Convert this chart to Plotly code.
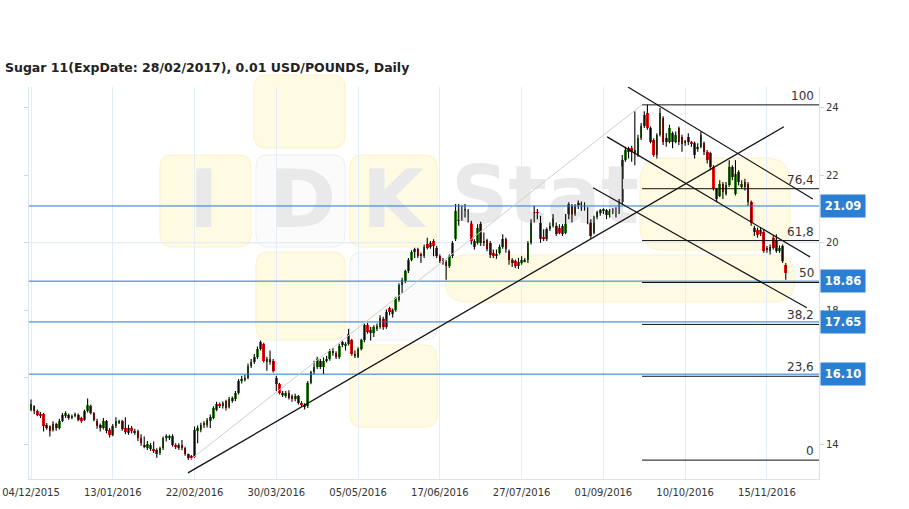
import plotly.graph_objects as go

# ---------------- data ----------------
title_text = "Sugar 11(ExpDate: 28/02/2017), 0.01 USD/POUNDS, Daily"
tick_labels = ["04/12/2015", "13/01/2016", "22/02/2016", "30/03/2016", "05/05/2016",
               "17/06/2016", "27/07/2016", "01/09/2016", "10/10/2016", "15/11/2016"]
bars_per_tick = 26
price_ticks = [14, 16, 18, 20, 22, 24]
price_tick_text = ["14", "", "18", "20", "22", "24"]  # 16 sits under the 16.10 label

opens = [
    15.05, 15.15, 15.02, 14.85, 14.92, 14.60, 14.55, 14.45, 14.62, 14.50,
    14.72, 14.85, 14.90, 14.80, 14.85, 14.90, 14.80, 14.75, 15.00, 15.15,
    14.95, 14.72, 14.60, 14.50, 14.70, 14.45, 14.30, 14.55, 14.68, 14.70,
    14.50, 14.35, 14.50, 14.35, 14.40, 14.20, 14.00, 13.90, 14.00, 13.88,
    13.85, 13.75, 13.90, 14.20, 14.22, 14.28, 14.00, 13.92, 14.00, 13.90,
    13.72, 13.65, 13.65, 14.40, 14.45, 14.65, 14.60, 14.72, 14.80, 15.05,
    15.22, 15.15, 15.30, 15.12, 15.30, 15.35, 15.55, 15.90, 15.95, 16.00,
    16.35, 16.45, 16.60, 16.85, 17.00, 16.45, 16.55, 16.50, 16.00, 15.80,
    15.55, 15.45, 15.55, 15.45, 15.35, 15.45, 15.25, 15.20, 15.15, 15.85,
    16.15, 16.30, 16.50, 16.30, 16.50, 16.55, 16.80, 16.72, 16.60, 17.05,
    16.95, 17.00, 17.10, 16.70, 16.62, 16.85, 17.10, 17.55, 17.40, 17.32,
    17.45, 17.50, 17.75, 17.50, 18.05, 17.90, 18.00, 18.30, 18.75, 18.85,
    19.15, 19.50, 19.72, 19.80, 19.65, 19.60, 19.95, 19.88, 20.05, 19.85,
    19.60, 19.50, 19.42, 19.30, 19.60, 20.10, 21.00, 20.70, 20.85, 20.95,
    20.60, 20.05, 20.00, 20.55, 19.98, 20.08, 20.00, 19.70, 19.60, 19.70,
    19.88, 20.12, 19.75, 19.50, 19.45, 19.30, 19.40, 19.45, 19.48, 20.00,
    20.65, 20.92, 20.75, 20.15, 20.10, 20.40, 20.50, 20.50, 20.45, 20.50,
    20.30, 20.78, 21.10, 20.85, 21.20, 21.18, 21.15, 21.00, 20.65, 20.30,
    20.75, 20.88, 20.95, 20.98, 20.82, 20.95, 21.00, 20.90, 21.20, 22.45,
    22.80, 22.82, 22.75, 22.60, 23.10, 23.45, 23.85, 23.40, 23.05, 22.60,
    23.20, 23.70, 23.10, 23.00, 23.25, 23.00, 23.40, 23.15, 22.96, 23.15,
    22.98, 22.96, 22.80, 22.85, 22.96, 22.70, 22.65, 22.25, 21.58, 21.40,
    21.75, 21.45, 21.70, 22.25, 21.45, 22.10, 21.65, 21.80, 21.75, 21.20,
    20.45, 20.38, 20.25, 20.32, 19.85, 19.75, 20.15, 20.05, 19.75, 19.90,
    19.35,
]
highs = [
    15.35, 15.18, 15.05, 14.98, 14.95, 14.65, 14.58, 14.70, 14.66, 14.78,
    14.95, 15.00, 14.93, 14.90, 14.96, 14.93, 14.84, 15.05, 15.38, 15.20,
    14.98, 14.78, 14.64, 14.80, 14.74, 14.50, 14.62, 14.82, 14.75, 14.75,
    14.82, 14.60, 14.56, 14.48, 14.45, 14.32, 14.25, 14.12, 14.06, 14.10,
    13.90, 13.95, 14.25, 14.32, 14.30, 14.32, 14.05, 14.05, 14.15, 13.95,
    13.75, 13.70, 14.55, 14.58, 14.66, 14.70, 14.80, 14.90, 15.15, 15.28,
    15.26, 15.30, 15.34, 15.42, 15.44, 15.60, 15.96, 16.05, 16.08, 16.42,
    16.55, 16.70, 16.92, 17.10, 17.03, 16.62, 16.80, 16.55, 16.05, 15.84,
    15.60, 15.60, 15.62, 15.50, 15.52, 15.48, 15.30, 15.24, 15.90, 16.20,
    16.50, 16.62, 16.55, 16.60, 16.65, 16.85, 16.88, 16.78, 17.00, 17.10,
    17.05, 17.45, 17.15, 16.80, 16.90, 17.15, 17.60, 17.62, 17.50, 17.55,
    17.60, 17.85, 17.80, 18.02, 18.10, 18.05, 18.40, 18.80, 18.96, 19.20,
    19.55, 19.78, 19.85, 19.85, 19.70, 19.95, 20.15, 20.05, 20.10, 19.90,
    19.65, 19.55, 19.48, 19.65, 20.05, 21.15, 21.15, 21.10, 21.15, 21.00,
    20.65, 20.10, 20.55, 20.62, 20.30, 20.12, 20.05, 19.80, 19.80, 19.95,
    20.25, 20.15, 19.80, 19.55, 19.50, 19.55, 19.60, 19.55, 20.05, 20.70,
    21.10, 21.00, 20.80, 20.40, 20.45, 20.60, 20.85, 20.60, 20.55, 20.55,
    20.85, 21.20, 21.15, 21.15, 21.25, 21.22, 21.20, 21.05, 20.70, 20.80,
    20.95, 21.00, 21.02, 21.00, 21.00, 21.02, 21.05, 21.30, 22.60, 22.85,
    22.85, 22.88, 23.90, 23.20, 23.55, 23.90, 24.09, 23.45, 23.10, 23.25,
    24.00, 23.75, 23.25, 23.50, 23.30, 23.30, 23.45, 23.20, 23.05, 23.25,
    23.02, 23.00, 22.95, 23.30, 23.00, 22.75, 22.70, 22.30, 21.62, 21.85,
    21.80, 21.80, 22.45, 22.30, 22.45, 22.15, 21.85, 21.90, 21.80, 21.25,
    20.50, 20.45, 20.45, 20.40, 19.90, 19.95, 20.20, 20.25, 19.92, 19.95,
    19.40,
]
lows = [
    15.00, 14.92, 14.85, 14.80, 14.40, 14.45, 14.25, 14.40, 14.42, 14.46,
    14.68, 14.80, 14.75, 14.76, 14.82, 14.70, 14.66, 14.72, 14.96, 14.90,
    14.70, 14.48, 14.40, 14.46, 14.35, 14.22, 14.26, 14.50, 14.62, 14.42,
    14.32, 14.30, 14.34, 14.30, 14.12, 13.98, 13.90, 13.85, 13.82, 13.76,
    13.62, 13.70, 13.85, 14.10, 14.15, 13.95, 13.88, 13.85, 13.84, 13.68,
    13.55, 13.56, 13.62, 14.05, 14.38, 14.50, 14.52, 14.50, 14.76, 15.00,
    15.10, 15.08, 15.02, 15.08, 15.25, 15.30, 15.50, 15.82, 15.88, 15.95,
    16.28, 16.40, 16.55, 16.80, 16.45, 16.20, 16.38, 16.15, 15.60, 15.50,
    15.42, 15.40, 15.35, 15.28, 15.30, 15.20, 15.14, 15.05, 15.10, 15.80,
    16.10, 16.25, 16.25, 16.10, 16.45, 16.50, 16.65, 16.55, 16.55, 16.90,
    16.80, 16.95, 16.65, 16.58, 16.58, 16.80, 17.05, 17.30, 17.10, 17.20,
    17.38, 17.45, 17.42, 17.45, 17.85, 17.78, 17.95, 18.25, 18.50, 18.80,
    19.10, 19.45, 19.55, 19.55, 19.40, 19.55, 19.80, 19.82, 19.60, 19.55,
    19.40, 19.35, 18.90, 19.25, 19.55, 20.05, 20.50, 20.65, 20.75, 20.60,
    19.95, 19.80, 19.95, 19.90, 19.90, 19.75, 19.55, 19.55, 19.52, 19.65,
    19.82, 19.70, 19.35, 19.28, 19.25, 19.22, 19.35, 19.42, 19.40, 19.95,
    20.60, 20.70, 20.00, 20.05, 20.05, 20.35, 20.45, 20.20, 20.25, 20.20,
    20.25, 20.70, 20.60, 20.80, 21.00, 20.95, 20.95, 20.55, 20.12, 20.25,
    20.70, 20.80, 20.85, 20.70, 20.75, 20.85, 20.75, 20.85, 21.15, 22.40,
    22.50, 22.40, 22.30, 22.55, 23.05, 23.40, 23.35, 22.95, 22.55, 22.50,
    23.15, 22.90, 22.85, 22.95, 22.80, 22.95, 22.90, 22.70, 22.88, 22.90,
    22.85, 22.50, 22.70, 22.80, 22.60, 22.35, 22.15, 21.55, 21.20, 21.35,
    21.30, 21.40, 21.65, 21.85, 21.40, 21.70, 21.60, 21.55, 21.10, 20.50,
    20.20, 20.15, 20.20, 19.70, 19.70, 19.65, 19.80, 19.70, 19.70, 19.40,
    18.90,
]
closes = [
    15.22, 15.00, 14.90, 14.92, 14.55, 14.50, 14.42, 14.62, 14.50, 14.72,
    14.88, 14.95, 14.80, 14.85, 14.92, 14.75, 14.72, 15.00, 15.20, 14.95,
    14.75, 14.55, 14.50, 14.70, 14.40, 14.30, 14.55, 14.72, 14.68, 14.48,
    14.38, 14.50, 14.40, 14.42, 14.20, 14.05, 13.95, 14.02, 13.88, 13.82,
    13.72, 13.90, 14.20, 14.28, 14.28, 14.00, 13.95, 14.00, 13.90, 13.72,
    13.60, 13.62, 14.45, 14.50, 14.60, 14.58, 14.75, 14.82, 15.10, 15.22,
    15.18, 15.25, 15.10, 15.35, 15.38, 15.55, 15.90, 15.95, 16.00, 16.35,
    16.45, 16.60, 16.85, 17.05, 16.50, 16.55, 16.45, 16.20, 15.82, 15.55,
    15.50, 15.55, 15.40, 15.35, 15.45, 15.25, 15.20, 15.12, 15.85, 16.15,
    16.30, 16.55, 16.30, 16.50, 16.55, 16.80, 16.72, 16.60, 16.95, 16.97,
    17.00, 17.30, 16.70, 16.65, 16.85, 17.10, 17.55, 17.35, 17.32, 17.50,
    17.52, 17.78, 17.50, 17.95, 17.95, 18.00, 18.35, 18.75, 18.90, 19.15,
    19.50, 19.72, 19.80, 19.60, 19.62, 19.88, 19.85, 20.00, 19.90, 19.60,
    19.45, 19.45, 19.30, 19.60, 20.00, 20.95, 20.65, 20.85, 21.00, 20.80,
    20.05, 19.88, 20.45, 20.00, 20.05, 19.80, 19.65, 19.62, 19.68, 19.88,
    20.10, 19.80, 19.50, 19.40, 19.32, 19.42, 19.48, 19.50, 20.00, 20.65,
    20.92, 20.78, 20.10, 20.12, 20.40, 20.50, 20.75, 20.25, 20.30, 20.25,
    20.78, 21.15, 20.80, 21.10, 21.12, 21.12, 21.00, 20.60, 20.20, 20.75,
    20.90, 20.97, 20.95, 20.82, 20.95, 20.97, 20.85, 21.20, 22.45, 22.75,
    22.70, 22.70, 22.62, 23.10, 23.45, 23.80, 23.40, 23.00, 22.60, 23.20,
    23.85, 23.00, 22.98, 23.40, 23.00, 23.20, 23.00, 22.92, 22.96, 23.00,
    22.92, 22.60, 22.85, 23.20, 22.70, 22.45, 22.25, 21.60, 21.30, 21.75,
    21.50, 21.70, 22.25, 21.95, 22.05, 21.80, 21.75, 21.65, 21.20, 20.60,
    20.32, 20.22, 20.38, 19.75, 19.78, 19.88, 19.85, 19.75, 19.85, 19.45,
    19.10,
]

support_levels = [21.09, 18.86, 17.65, 16.10]
support_labels = ["21.09", "18.86", "17.65", "16.10"]

fib_low = 13.55
fib_high = 24.09
fib_start_bar = 194.3
fib_ratios = [0.0, 0.236, 0.382, 0.5, 0.618, 0.764, 1.0]
fib_labels = ["0", "23,6", "38,2", "50", "61,8", "76,4", "100"]

# trend lines: (bar0, price0, bar1, price1)
uptrend_line = (49.9, 13.17, 239.4, 23.44)
fib_base_line = (50.5, 13.55, 194.3, 24.09)
channel_top = (189.8, 24.62, 248.6, 21.30)
channel_mid = (183.2, 23.14, 247.7, 19.58)
channel_low = (178.7, 21.63, 246.7, 18.07)

# ---------------- layout geometry ----------------
W, H = 909, 509
ML, MR, MT, MB = 29, 90, 87, 30
XR = [-0.64, 250.56]
YR = [12.99, 24.62]
PW, PH = W - ML - MR, H - MT - MB

def px2paper(px, py):
    return (px - ML) / PW, (H - MB - py) / PH

def px2data(px, py):
    fx, fy = px2paper(px, py)
    return XR[0] + fx * (XR[1] - XR[0]), YR[0] + fy * (YR[1] - YR[0])

GREEN = "#3b8a26"
RED = "#f51414"
BLUE = "#2478cf"

n = len(closes)
assert len(opens) == n and len(highs) == n and len(lows) == n
idx = list(range(n))

fig = go.Figure()

# watermark letters (behind everything)
wm_txt = ["I", "D", "K", "Stat"]
wm_px = [(204, 207), (303, 207), (393, 207), (545, 203)]
wm_xy = [px2data(*p) for p in wm_px]
fig.add_trace(go.Scatter(
    x=[p[0] for p in wm_xy], y=[p[1] for p in wm_xy], text=wm_txt, mode="text",
    textfont=dict(family="DejaVu Sans", size=80, color="#e9e9e9", weight="bold"),
    hoverinfo="skip", showlegend=False))

# wicks
wx, wy = [], []
for i in idx:
    wx += [i, i, None]
    wy += [lows[i], highs[i], None]
fig.add_trace(go.Scatter(x=wx, y=wy, mode="lines", line=dict(color="#000000", width=1.1),
                         hoverinfo="skip", showlegend=False))

# bodies
bases = [min(o, c) for o, c in zip(opens, closes)]
heights = [max(abs(c - o), 0.03) for o, c in zip(opens, closes)]
colors = [GREEN if c >= o else RED for o, c in zip(opens, closes)]
fig.add_trace(go.Bar(x=idx, y=heights, base=bases, width=0.85,
                     marker=dict(color=colors, line=dict(width=0)),
                     showlegend=False, hoverinfo="skip"))

shapes = []

# watermark boxes
def rrect(x0, y0, x1, y1, r):
    def P(x, y):
        fx, fy = px2paper(x, y)
        return f"{fx:.5f},{fy:.5f}"
    return (f"M {P(x0 + r, y0)} L {P(x1 - r, y0)} Q {P(x1, y0)} {P(x1, y0 + r)} "
            f"L {P(x1, y1 - r)} Q {P(x1, y1)} {P(x1 - r, y1)} L {P(x0 + r, y1)} "
            f"Q {P(x0, y1)} {P(x0, y1 - r)} L {P(x0, y0 + r)} Q {P(x0, y0)} {P(x0 + r, y0)} Z")

yl_fill, yl_line = "#fffbe3", "#fbf2cd"
wh_fill, wh_line = "#fbfbfb", "#efefef"
boxes = [
    (254, 75, 345, 148, 12, yl_fill, yl_line),
    (160, 155, 251, 247, 12, yl_fill, yl_line),
    (256, 155, 345, 247, 12, wh_fill, wh_line),
    (350, 155, 437, 247, 12, yl_fill, yl_line),
    (256, 252, 345, 340, 12, yl_fill, yl_line),
    (350, 252, 437, 340, 12, wh_fill, wh_line),
    (350, 345, 437, 427, 12, yl_fill, yl_line),
    (445, 255, 795, 302, 22, yl_fill, yl_line),
    (640, 158, 790, 250, 24, yl_fill, yl_line),
]
for b in boxes:
    shapes.append(dict(type="path", path=rrect(*b[:5]), xref="paper", yref="paper",
                       fillcolor=b[5], line=dict(color=b[6], width=1), layer="below"))

# faint horizontal grid at 20
shapes.append(dict(type="line", xref="paper", x0=0, x1=1, yref="y", y0=20, y1=20,
                   line=dict(color="#dde8f3", width=1), layer="below"))

# support lines (blue)
for lv in support_levels:
    shapes.append(dict(type="line", xref="paper", x0=0, x1=1, yref="y", y0=lv, y1=lv,
                       line=dict(color=BLUE, width=1)))

# fib lines
fib_values = [fib_low + r * (fib_high - fib_low) for r in fib_ratios]
for v in fib_values:
    shapes.append(dict(type="line", xref="x", x0=fib_start_bar, x1=XR[1], yref="y", y0=v, y1=v,
                       line=dict(color="#111111", width=1)))

# trend lines
for ln, col, wd in [(fib_base_line, "#cfcfcf", 1), (uptrend_line, "#111111", 1.3),
                    (channel_top, "#111111", 1.2), (channel_mid, "#111111", 1.2),
                    (channel_low, "#111111", 1.2)]:
    shapes.append(dict(type="line", xref="x", yref="y", x0=ln[0], y0=ln[1], x1=ln[2], y1=ln[3],
                       line=dict(color=col, width=wd)))

annotations = []
annotations.append(dict(x=(3 - ML) / PW, xref="paper", xanchor="left",
                        y=(H - MB - 68) / PH, yref="paper", yanchor="middle",
                        text=f"<b>{title_text}</b>", showarrow=False,
                        font=dict(family="DejaVu Sans", size=12.5, color="#222222")))
for v, t in zip(fib_values, fib_labels):
    annotations.append(dict(x=1, xref="paper", xanchor="right", xshift=-3, y=v, yref="y",
                            yanchor="bottom", yshift=0, text=t, showarrow=False,
                            font=dict(family="DejaVu Sans", size=12, color="#333333")))
for v, t in zip(support_levels, support_labels):
    annotations.append(dict(x=1, xref="paper", xanchor="left", xshift=1, y=v, yref="y",
                            yanchor="middle", text=f"<b>{t}</b>", showarrow=False,
                            bgcolor="#2a7fd2", width=42, height=20, borderpad=1,
                            font=dict(family="DejaVu Sans", size=11.5, color="white")))

fig.update_layout(
    width=W, height=H,
    margin=dict(l=ML, r=MR, t=MT, b=MB, autoexpand=False),
    paper_bgcolor="white", plot_bgcolor="white",
    font=dict(family="DejaVu Sans", color="#333333"),
    showlegend=False,
    shapes=shapes,
    annotations=annotations,
    bargap=0,
    xaxis=dict(range=XR, tickvals=[k * bars_per_tick for k in range(len(tick_labels))],
               ticktext=tick_labels, showgrid=True, gridcolor="#e4edf7", gridwidth=1,
               showline=True, linecolor="#d6e3f0", zeroline=False, ticks="",
               automargin=False, ticklabeloverflow="allow", ticklabelstandoff=4,
               tickfont=dict(size=10, color="#333333")),
    yaxis=dict(range=YR, side="right", tickvals=price_ticks, ticktext=price_tick_text,
               showgrid=False, showline=True, linecolor="#d6e3f0", mirror="ticks",
               ticks="outside", ticklen=4, tickcolor="#c9d8e8", zeroline=False,
               automargin=False, tickfont=dict(size=10, color="#333333")),
)

fig.write_html("out.html", config={"displayModeBar": False},
               post_script="document.body.style.margin='0';document.body.style.overflow='hidden';")
